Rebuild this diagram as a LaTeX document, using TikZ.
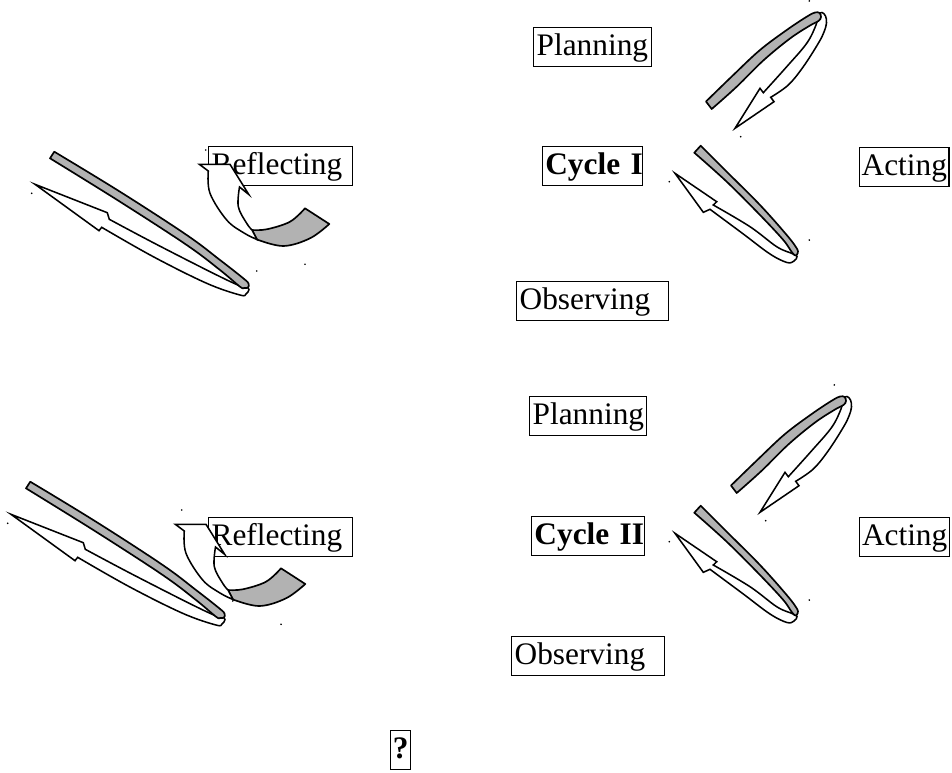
\documentclass[tikz,border=0pt]{standalone}
\usepackage{fontspec}
\setmainfont{Liberation Serif}
\definecolor{bandgray}{RGB}{178,178,178}
\tikzset{
  lbl/.style={draw, line width=1pt, anchor=north west, align=left,
    inner xsep=2.25pt, inner ysep=3.75pt, text height=17.25pt, text depth=4.5pt,
    font=\fontsize{23.5}{28}\selectfont},
  lblbold/.style={lbl, font=\fontsize{23.5}{28}\selectfont\bfseries},
  band/.style={draw, line width=1.25pt, fill=bandgray, line join=round},
  ribbon/.style={draw, line width=1.15pt, fill=white, line join=miter},
  speck/.style={fill=black, draw=none},
  arrA/.pic={
    \path[ribbon] (735,128.3) -- (760,88.3) -- (763.3,92.7) -- plot[smooth, tension=0.6] coordinates {(763.3,92.7) (786.7,66.7) (806.7,43.3) (816,25) (818.5,15) (822,12.5) (825.5,16) (826.5,23) (824,32) (818.3,43.3) (803.3,66.7) (788.3,85) (770.7,97.3)} -- (774,101.7) -- cycle;
    \path[band] (706,101.5) -- plot[smooth, tension=0.6] coordinates {(706,101.5) (733.3,75) (760,50) (786.7,30) (806.7,16.7) (815,12.5) (819.5,13) (821,17) (818.5,21) (810,25.5) (790,38.5) (763.3,60.5) (736.7,86.7) (711.7,109)} -- cycle;
    \fill[speck] (809.3,0.9) circle[radius=0.7pt];
    \fill[speck] (740.7,136.7) circle[radius=0.7pt];
  },
  arrB/.pic={
    \path[ribbon] (675,173.3) -- (716.7,201.7) -- (713.3,205) -- plot[smooth, tension=0.6] coordinates {(713.3,205) (750,226.7) (776.7,246.7) (792,253.5) (797,256.5) (794,261) (787,262.5) (770,254) (743.3,234) (710,209.3)} -- (703.3,212.3) -- cycle;
    \path[band] (700.7,145.7) -- plot[smooth, tension=0.6] coordinates {(700.7,145.7) (726.7,171.7) (760,205) (786.7,235) (796.7,248.3) (797.7,253) (795.5,255.5) (791.7,252) (783.3,240) (760,215) (726.7,181.7) (694.3,152.7)} -- cycle;
    \fill[speck] (669.3,181.7) circle[radius=0.7pt];
    \fill[speck] (809.3,240) circle[radius=0.7pt];
  },
  arrC/.pic={
    \path[ribbon] (35,184.3) -- (107.3,212.7) -- (109.3,219.3) -- plot[smooth, tension=0.6] coordinates {(109.3,219.3) (153.3,242.7) (206.7,270) (236.7,284.5) (246,287) (249,289.5) (246,294) (240,295) (206.7,283.3) (153.3,256.7) (101.7,227.3)} -- (99,230.7) -- cycle;
    \path[band] (54.3,151.7) -- plot[smooth, tension=0.6] coordinates {(54.3,151.7) (120,191.7) (186.7,235) (220,260) (243.3,278.3) (248.5,283.5) (248,287.5) (244,288) (240,286.7) (220,270) (186.7,245) (120,201.7) (50,158.3)} -- cycle;
    \fill[speck] (31.7,193.3) circle[radius=0.7pt];
    \fill[speck] (256.7,271) circle[radius=0.7pt];
  },
  arrD/.pic={
    \path[band] (252,230) -- plot[smooth, tension=0.6] coordinates {(252,230) (266.7,229.3) (290,221.7) (305,208.3)} -- (329.3,224) -- plot[smooth, tension=0.6] coordinates {(329.3,224) (310,238.3) (283.3,246) (257,239.5)} -- cycle;
    \path[ribbon] (199.3,164.3) -- (230,164.3) -- (248.8,194.5) -- (239.5,187) -- plot[smooth, tension=0.6] coordinates {(239.5,187) (238.3,206.7) (246.7,223.3) (252,230)} -- (257,239.5) -- plot[smooth, tension=0.6] coordinates {(257,239.5) (244,233) (226.7,220) (210,193.3) (208.3,171)} -- cycle;
    \fill[speck] (205.7,150) circle[radius=0.7pt];
    \fill[speck] (305,264.3) circle[radius=0.7pt];
  },
}
\begin{document}
\begin{tikzpicture}[x=0.75pt, y=-0.75pt]
\useasboundingbox (0,0) rectangle (952,772);
% Cycle I labels
\node[lbl, text width=84pt] (plan1) at (533,27) {Planning};
\node[lblbold, text width=71pt, inner xsep=2pt] (cyc1) at (542,146) {\mbox{Cycle I}};
\node[lbl, text width=64pt, inner xsep=1.5pt] (act1) at (859,147) {\mbox{Acting}};
\node[lbl, text width=109.5pt] (obs1) at (516,281) {Observing};
\node[lbl, text width=103.5pt] (ref1) at (208,146) {Reflecting};
% Cycle II labels
\node[lbl, text width=83.25pt] (plan2) at (529,396) {Planning};
\node[lblbold, text width=80.5pt, inner xsep=2.1pt] (cyc2) at (531,516) {\mbox{Cycle II}};
\node[lbl, text width=64pt, inner xsep=1.75pt] (act2) at (859,517) {\mbox{Acting}};
\node[lbl, text width=110.25pt] (obs2) at (511,636) {Observing};
\node[lbl, text width=103.5pt] (ref2) at (208,517) {Reflecting};
\node[lblbold, text width=12pt, align=center, inner xsep=1.5pt] (qm) at (390,730) {?};
% curved ribbon arrows
\pic at (0,0) {arrA};
\pic at (25,384) {arrA};
\pic at (0,0) {arrB};
\pic at (0,360) {arrB};
\pic at (0,0) {arrC};
\pic at (-24,330) {arrC};
\pic at (0,0) {arrD};
\pic at (-24,360) {arrD};
\end{tikzpicture}
\end{document}
